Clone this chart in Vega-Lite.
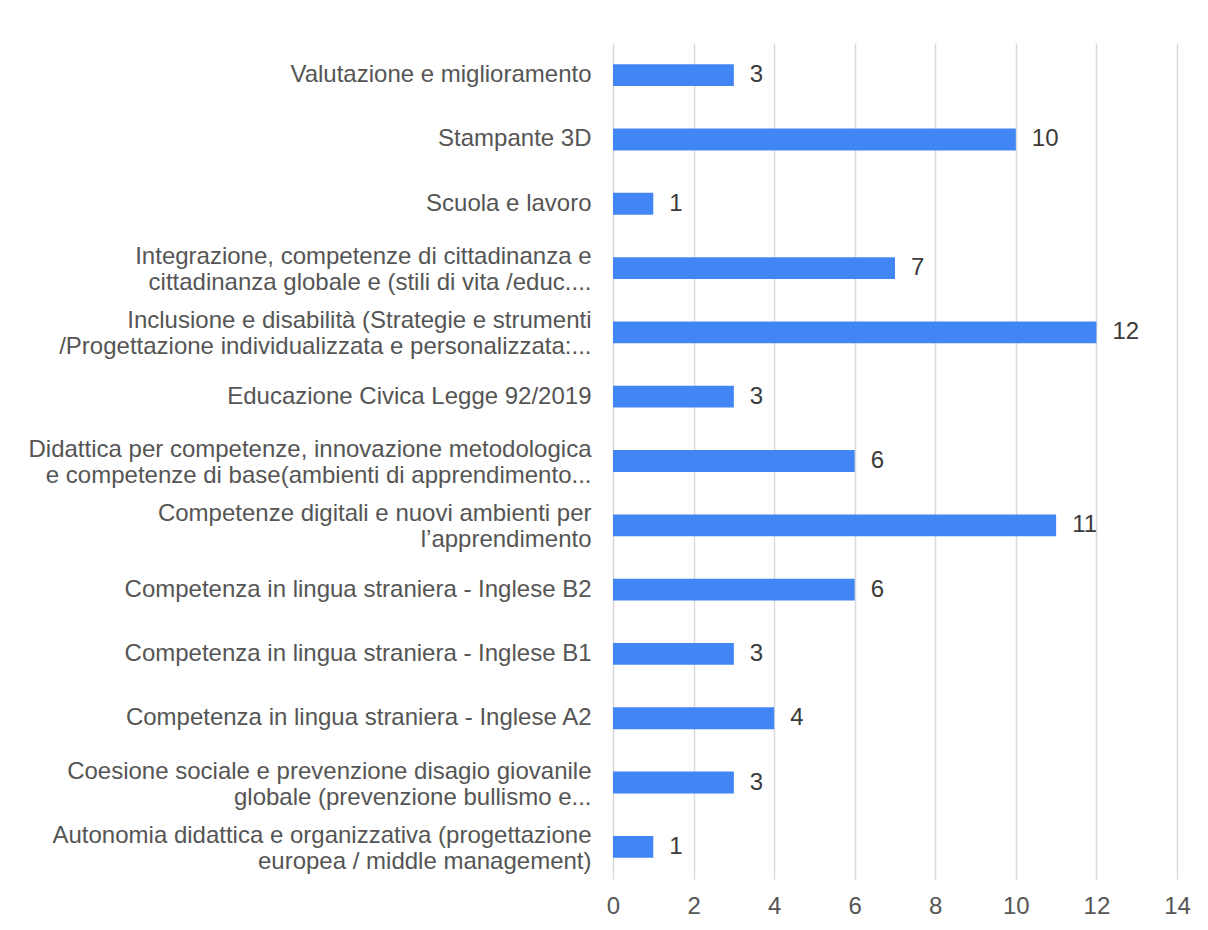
{
  "$schema": "https://vega.github.io/schema/vega-lite/v6.json",
  "width": 564,
  "height": 836,
  "autosize": {"type": "none"},
  "padding": {"left": 613, "top": 43, "right": 31, "bottom": 51},
  "background": "white",
  "data": {
    "values": [
      {"cat": "Valutazione e miglioramento", "n": 3},
      {"cat": "Stampante 3D", "n": 10},
      {"cat": "Scuola e lavoro", "n": 1},
      {"cat": "Integrazione, competenze di cittadinanza e|cittadinanza globale e (stili di vita /educ....", "n": 7},
      {"cat": "Inclusione e disabilità (Strategie e strumenti|/Progettazione individualizzata e personalizzata:...", "n": 12},
      {"cat": "Educazione Civica Legge 92/2019", "n": 3},
      {"cat": "Didattica per competenze, innovazione metodologica|e competenze di base(ambienti di apprendimento...", "n": 6},
      {"cat": "Competenze digitali e nuovi ambienti per|l’apprendimento", "n": 11},
      {"cat": "Competenza in lingua straniera - Inglese B2", "n": 6},
      {"cat": "Competenza in lingua straniera - Inglese B1", "n": 3},
      {"cat": "Competenza in lingua straniera - Inglese A2", "n": 4},
      {"cat": "Coesione sociale e prevenzione disagio giovanile|globale (prevenzione bullismo e...", "n": 3},
      {"cat": "Autonomia didattica e organizzativa (progettazione|europea / middle management)", "n": 1}
    ]
  },
  "encoding": {
    "y": {
      "field": "cat",
      "type": "nominal",
      "sort": null,
      "scale": {"paddingInner": 0.66, "paddingOuter": 0.33},
      "axis": {
        "title": null,
        "domain": false,
        "ticks": false,
        "labelExpr": "split(datum.label, '|')",
        "labelAlign": "right",
        "labelPadding": 22,
        "labelFont": "Liberation Sans",
        "labelFontSize": 24,
        "labelColor": "#555555",
        "labelLineHeight": 26,
        "labelLimit": 700,
        "labelOffset": {"condition": {"test": "indexof(datum.value, '|') >= 0", "value": -11}, "value": 0}
      }
    },
    "x": {
      "field": "n",
      "type": "quantitative",
      "scale": {"domain": [0, 14], "nice": false},
      "axis": {
        "title": null,
        "values": [0, 2, 4, 6, 8, 10, 12, 14],
        "domain": false,
        "ticks": false,
        "grid": true,
        "gridColor": "#d9d9d9",
        "gridWidth": 1.5,
        "labelPadding": 15,
        "labelFont": "Liberation Sans",
        "labelFontSize": 24,
        "labelColor": "#555555",
        "labelFlush": false
      }
    }
  },
  "layer": [
    {"mark": {"type": "bar", "color": "#4285F4"}},
    {
      "mark": {"type": "text", "align": "left", "baseline": "middle", "dx": 16, "font": "Liberation Sans", "fontSize": 24, "color": "#3a3a3a"},
      "encoding": {"text": {"field": "n", "type": "quantitative"}}
    }
  ],
  "config": {"view": {"stroke": null}}
}
